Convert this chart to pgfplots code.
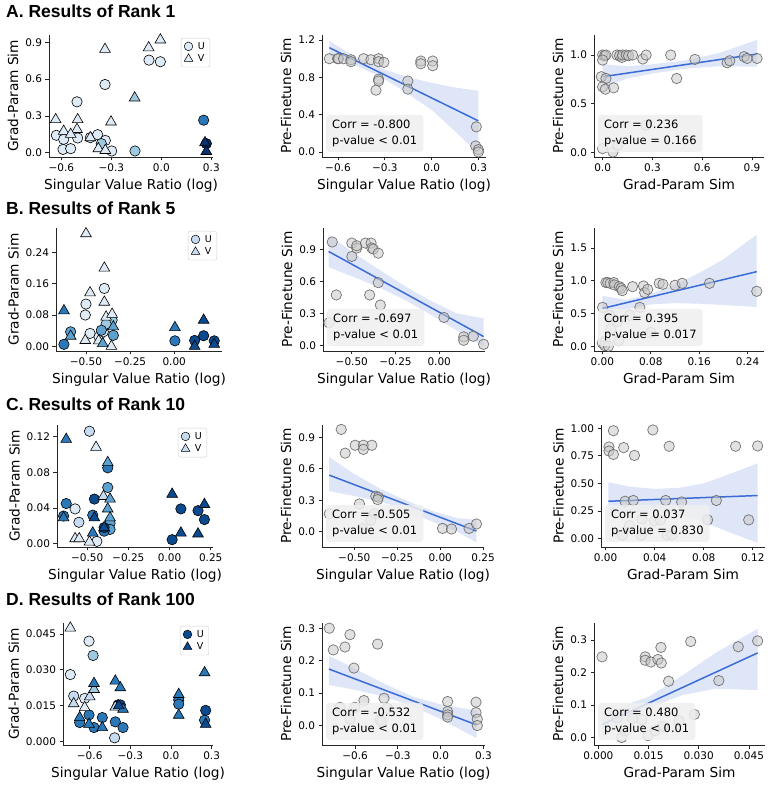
\documentclass[border=0pt]{standalone}
\usepackage{fontspec}
\setmainfont{DejaVu Sans}
\newfontfamily\titlefont{Liberation Sans}
\usepackage{pgfplots}
\pgfplotsset{compat=1.18}

% Blues palette for the U/V markers
\definecolor{bA}{HTML}{DEEBF7}
\definecolor{bB}{HTML}{C6DBEF}
\definecolor{bC}{HTML}{9ECAE1}
\definecolor{bD}{HTML}{5DA2CF}
\definecolor{bE}{HTML}{2B78B8}
\definecolor{bF}{HTML}{0B4A8E}
\definecolor{bG}{HTML}{0A3370}
\definecolor{regblue}{HTML}{3B6BD6}
\definecolor{boxgray}{HTML}{EFEFEF}
\definecolor{ptfill}{HTML}{C8C8C8}

\pgfplotsset{
  panel/.style={
    scale only axis, enlargelimits=false, clip=false, anchor=south west,
    scaled ticks=false,
    axis x line*=bottom, axis y line*=left,
    axis line style={-, black!85, line width=0.8pt},
    tick align=outside, major tick length=3.5pt,
    tick style={black!85, line width=0.8pt},
    tick label style={font=\fontsize{10.5}{12}\selectfont},
    xlabel style={font=\fontsize{13.7}{16}\selectfont},
    ylabel style={font=\fontsize{13.7}{16}\selectfont},
  },
  leg/.style={legend style={at={(1,1)}, anchor=north east, xshift=#1,
    yshift=-3pt, draw=black!20, rounded corners=2pt, fill=white,
    font=\fontsize{9.5}{10}\selectfont, inner xsep=3pt, inner ysep=2pt,
    row sep=0pt, /tikz/every odd column/.append style={column sep=3pt}},
    legend cell align=left},
  U/.style={only marks, forget plot, mark=*, mark size=5.2pt,
    mark options={draw=black, line width=0.6pt, fill=#1}},
  V/.style={only marks, forget plot, mark=triangle*, mark size=6.2pt,
    mark options={draw=black, line width=0.6pt, fill=#1}},
  LU/.style={only marks, mark=*, mark size=4.3pt,
    mark options={draw=black, line width=0.5pt, fill=#1}},
  LV/.style={only marks, mark=triangle*, mark size=5pt,
    mark options={draw=black, line width=0.5pt, fill=#1}},
  G/.style={only marks, forget plot, mark=*, mark size=5.2pt,
    fill opacity=0.55, draw opacity=0.9,
    mark options={draw=black!60, fill=ptfill, fill opacity=0.55,
      draw opacity=0.9, line width=0.7pt}},
  band/.style={fill=regblue, fill opacity=0.17, draw=none, forget plot},
  reg/.style={regblue, line width=1.5pt, no marks, forget plot},
}
\tikzset{corrbox/.style={anchor=south west, xshift=4pt, yshift=5pt,
  fill=boxgray, fill opacity=0.85, text opacity=1, rounded corners=3pt,
  inner xsep=6pt, inner ysep=5pt, align=left,
  font=\fontsize{11.5}{16}\selectfont}}

\begin{document}
\begin{tikzpicture}
\path[use as bounding box] (0pt,0pt) rectangle (772pt,785pt);

\node[anchor=base west, inner sep=0pt, font=\titlefont\bfseries\fontsize{17.5}{20}\selectfont] at (6pt,767pt) {A. Results of Rank 1};
\node[anchor=base west, inner sep=0pt, font=\titlefont\bfseries\fontsize{17.5}{20}\selectfont] at (6pt,570pt) {B. Results of Rank 5};
\node[anchor=base west, inner sep=0pt, font=\titlefont\bfseries\fontsize{17.5}{20}\selectfont] at (6pt,374pt) {C. Results of Rank 10};
\node[anchor=base west, inner sep=0pt, font=\titlefont\bfseries\fontsize{17.5}{20}\selectfont] at (6pt,179pt) {D. Results of Rank 100};

% ---------------- Rank 1 ----------------
\begin{axis}[panel, leg=-3pt, at={(49pt,628pt)}, width=164pt, height=122pt,
  xmin=-0.674, xmax=0.31, ymin=-0.035, ymax=0.96,
  xtick={-0.6,-0.3,0,0.3}, xticklabels={−0.6,−0.3,0.0,0.3},
  ytick={0,0.3,0.6,0.9}, yticklabels={0.0,0.3,0.6,0.9},
  xlabel={Singular Value Ratio (log)}, ylabel={Grad-Param Sim}]
\addplot[U=bA] coordinates {(-0.074,0.755) (-0.006,0.742) (-0.338,0.556) (-0.506,0.415) (-0.63,0.142) (-0.586,0.109) (-0.59,0.027) (-0.544,0.033) (-0.502,0.12) (-0.426,0.123) (-0.382,0.147) (-0.336,0.10) (-0.298,0.014)};
\addplot[U=bC] coordinates {(-0.36,0.074) (-0.158,0.014)};
\addplot[U=bE] coordinates {(0.254,0.265)};
\addplot[U=bG] coordinates {(0.27,0.074)};
\addplot[V=bA] coordinates {(-0.006,0.92) (-0.076,0.856) (-0.338,0.843) (-0.634,0.27) (-0.502,0.27) (-0.302,0.251) (-0.586,0.175) (-0.506,0.19) (-0.544,0.15) (-0.426,0.123) (-0.378,0.033) (-0.336,0.019)};
\addplot[V=bC] coordinates {(-0.16,0.447)};
\addplot[V=bG] coordinates {(0.262,0.082) (0.27,0.011)};
\addlegendimage{LU=bA}\addlegendentry{U}
\addlegendimage{LV=bA}\addlegendentry{V}
\end{axis}

\begin{axis}[panel, name=am, at={(322pt,628pt)}, width=164pt, height=122pt,
  xmin=-0.702, xmax=0.347, ymin=-0.054, ymax=1.253,
  xtick={-0.6,-0.3,0,0.3}, xticklabels={−0.6,−0.3,0.0,0.3},
  ytick={0,0.4,0.8,1.2}, yticklabels={0.0,0.4,0.8,1.2},
  xlabel={Singular Value Ratio (log)}, ylabel={Pre-Finetune Sim}]
\addplot[G] coordinates {(-0.655,0.999) (-0.602,0.999) (-0.597,0.999) (-0.564,0.999) (-0.517,0.988) (-0.517,0.967) (-0.436,0.999) (-0.389,0.988) (-0.34,0.999) (-0.34,0.967) (-0.306,0.96) (-0.07,0.974) (-0.07,0.945) (0.006,0.974) (0.006,0.924) (-0.34,0.78) (-0.34,0.76) (-0.357,0.662) (-0.153,0.76) (-0.153,0.673) (0.285,0.269) (0.281,0.064) (0.298,0.025) (0.298,0.0)};
\addplot[band] coordinates {(-0.655,1.19) (-0.55,1.08) (-0.45,0.99) (-0.3,0.88) (-0.15,0.80) (0.0,0.74) (0.15,0.69) (0.298,0.655) (0.298,-0.018) (0.15,0.22) (0.0,0.45) (-0.15,0.62) (-0.3,0.78) (-0.45,0.9) (-0.55,0.97) (-0.655,1.03)};
\addplot[reg] coordinates {(-0.655,1.117) (0.298,0.333)};
\end{axis}
\node[corrbox] at (am.south west) {Corr = -0.800\\p-value < 0.01};

\begin{axis}[panel, name=ar, at={(594pt,628pt)}, width=170pt, height=122pt,
  xmin=-0.052, xmax=0.972, ymin=-0.048, ymax=1.206,
  xtick={0,0.3,0.6,0.9}, xticklabels={0.0,0.3,0.6,0.9},
  ytick={0,0.5,1}, yticklabels={0.0,0.5,1.0},
  xlabel={Grad-Param Sim}, ylabel={Pre-Finetune Sim}]
\addplot[G] coordinates {(0.0,1.0) (0.012,0.993) (0.02,1.0) (0.0,0.948) (0.086,1.0) (0.102,0.993) (0.116,0.976) (0.12,1.0) (0.142,1.0) (0.156,0.993) (0.18,1.0) (0.242,0.959) (0.262,1.0) (0.41,1.0) (0.556,0.955) (0.75,0.921) (0.766,0.941) (0.852,0.983) (0.87,0.965) (0.93,0.965) (-0.008,0.777) (0.02,0.759) (0.446,0.759) (0.0,0.673) (0.016,0.649) (0.066,0.663) (0.0,0.038) (0.062,0.003) (0.26,0.278) (0.09,0.07)};
\addplot[band] coordinates {(0,0.905) (0.15,0.885) (0.3,0.905) (0.5,0.945) (0.7,1.02) (0.93,1.155) (0.93,0.88) (0.7,0.885) (0.5,0.86) (0.3,0.81) (0.15,0.76) (0,0.67)};
\addplot[reg] coordinates {(0.0,0.777) (0.93,1.01)};
\end{axis}
\node[corrbox] at (ar.south west) {Corr = 0.236\\p-value = 0.166};

% ---------------- Rank 5 ----------------
\begin{axis}[panel, leg=-5pt, at={(56pt,434pt)}, width=166pt, height=123pt,
  xmin=-0.67, xmax=0.271, ymin=-0.012, ymax=0.3025,
  xtick={-0.5,-0.25,0}, xticklabels={−0.50,−0.25,0.00},
  ytick={0,0.08,0.16,0.24}, yticklabels={0.00,0.08,0.16,0.24},
  xlabel={Singular Value Ratio (log)}, ylabel={Grad-Param Sim}]
\addplot[U=bA] coordinates {(-0.5,0.108) (-0.504,0.08) (-0.396,0.148) (-0.477,0.033) (-0.426,0.024) (-0.402,0.037)};
\addplot[U=bC] coordinates {(-0.352,0.067) (-0.386,0.057)};
\addplot[U=bD] coordinates {(-0.587,0.037) (-0.413,0.041) (-0.345,0.028)};
\addplot[U=bE] coordinates {(-0.625,0.005) (0.004,0.014)};
\addplot[U=bF] coordinates {(0.116,0.015) (0.167,0.027) (0.227,0.014)};
\addplot[V=bA] coordinates {(-0.5,0.288) (-0.396,0.2) (-0.477,0.137) (-0.396,0.113) (-0.386,0.075) (-0.352,0.082) (-0.504,0.015) (-0.428,0.014) (-0.356,0.0)};
\addplot[V=bD] coordinates {(-0.587,0.026) (-0.345,0.05) (-0.405,0.007)};
\addplot[V=bE] coordinates {(-0.625,0.091) (0.004,0.048)};
\addplot[V=bF] coordinates {(0.116,0.0) (0.167,0.067) (0.227,0.005)};
\addlegendimage{LU=bB}\addlegendentry{U}
\addlegendimage{LV=bB}\addlegendentry{V}
\end{axis}

\begin{axis}[panel, name=bm, at={(323pt,434pt)}, width=162pt, height=123pt,
  xmin=-0.665, xmax=0.262, ymin=-0.054, ymax=1.105,
  xtick={-0.5,-0.25,0}, xticklabels={−0.50,−0.25,0.00},
  ytick={0,0.3,0.6,0.9}, yticklabels={0.0,0.3,0.6,0.9},
  xlabel={Singular Value Ratio (log)}, ylabel={Pre-Finetune Sim}]
\addplot[G] coordinates {(-0.612,0.973) (-0.5,0.963) (-0.5,0.837) (-0.472,0.916) (-0.472,0.938) (-0.422,0.963) (-0.39,0.963) (-0.386,0.916) (-0.377,0.906) (-0.349,0.868) (-0.349,0.59) (-0.398,0.474) (-0.589,0.474) (-0.337,0.379) (-0.631,0.212) (0.027,0.262) (0.14,0.079) (0.14,0.047) (0.195,0.085) (0.254,0.009)};
\addplot[band] coordinates {(-0.633,1.04) (-0.5,0.88) (-0.35,0.72) (-0.2,0.56) (-0.05,0.42) (0.1,0.3) (0.254,0.253) (0.254,-0.01) (0.1,0.14) (-0.05,0.29) (-0.2,0.43) (-0.35,0.55) (-0.5,0.65) (-0.633,0.736)};
\addplot[reg] coordinates {(-0.633,0.884) (0.254,0.082)};
\end{axis}
\node[corrbox] at (bm.south west) {Corr = -0.697\\p-value < 0.01};

\begin{axis}[panel, name=br, at={(594pt,434pt)}, width=170pt, height=123pt,
  xmin=-0.0137, xmax=0.267, ymin=-0.072, ymax=1.807,
  xtick={0,0.08,0.16,0.24}, xticklabels={0.00,0.08,0.16,0.24},
  ytick={0,0.5,1,1.5}, yticklabels={0.0,0.5,1.0,1.5},
  xlabel={Grad-Param Sim}, ylabel={Pre-Finetune Sim}]
\addplot[G] coordinates {(0.006,0.973) (0.009,0.973) (0.013,0.962) (0.019,0.973) (0.02,0.937) (0.028,0.911) (0.031,0.886) (0.033,0.85) (0.05,0.911) (0.068,0.921) (0.07,0.819) (0.075,0.87) (0.094,0.962) (0.1,0.947) (0.12,0.932) (0.132,0.962) (0.177,0.962) (0.255,0.84) (0.0005,0.594) (0.062,0.594) (0.012,0.474) (0.045,0.474) (0.025,0.379) (0.08,0.212) (0.014,0.262) (0.005,0.079) (0.0,0.047) (0.027,0.085) (0.004,0.009) (0.01,0.0)};
\addplot[band] coordinates {(0,0.77) (0.04,0.71) (0.08,0.80) (0.12,0.94) (0.16,1.12) (0.2,1.33) (0.255,1.705) (0.255,0.6) (0.2,0.63) (0.16,0.65) (0.12,0.66) (0.08,0.64) (0.04,0.56) (0,0.38)};
\addplot[reg] coordinates {(0.0,0.578) (0.255,1.14)};
\end{axis}
\node[corrbox] at (br.south west) {Corr = 0.395\\p-value = 0.017};

% ---------------- Rank 10 ----------------
\begin{axis}[panel, leg=-6pt, at={(57pt,238pt)}, width=156pt, height=122pt,
  xmin=-0.683, xmax=0.264, ymin=-0.0037, ymax=0.133,
  xtick={-0.5,-0.25,0,0.25}, xticklabels={−0.50,−0.25,0.00,0.25},
  ytick={0,0.04,0.08,0.12}, yticklabels={0.00,0.04,0.08,0.12},
  xlabel={Singular Value Ratio (log)}, ylabel={Grad-Param Sim}]
\addplot[U=bA] coordinates {(-0.573,0.039) (-0.441,0.0026)};
\addplot[U=bB] coordinates {(-0.486,0.126) (-0.55,0.024)};
\addplot[U=bD] coordinates {(-0.375,0.063) (-0.361,0.023) (-0.361,0.016)};
\addplot[U=bE] coordinates {(-0.627,0.045) (-0.643,0.031) (-0.466,0.032) (-0.375,0.085) (-0.397,0.014)};
\addplot[U=bF] coordinates {(-0.456,0.05) (-0.397,0.018) (0.016,0.0045) (0.069,0.039) (0.173,0.037) (0.212,0.027)};
\addplot[V=bA] coordinates {(-0.446,0.108) (-0.573,0.0056) (-0.548,0.0056) (-0.486,0.0019)};
\addplot[V=bB] coordinates {(-0.401,0.053)};
\addplot[V=bD] coordinates {(-0.375,0.091) (-0.361,0.05) (-0.375,0.039) (-0.361,0.029)};
\addplot[V=bE] coordinates {(-0.627,0.117) (-0.643,0.029) (-0.466,0.012)};
\addplot[V=bF] coordinates {(-0.456,0.029) (-0.397,0.018) (0.016,0.0555) (0.069,0.012) (0.173,0.011) (0.212,0.044)};
\addlegendimage{LU=bB}\addlegendentry{U}
\addlegendimage{LV=bB}\addlegendentry{V}
\end{axis}

\begin{axis}[panel, name=cm, at={(322pt,238pt)}, width=162pt, height=122pt,
  xmin=-0.688, xmax=0.255, ymin=-0.145, ymax=1.016,
  xtick={-0.5,-0.25,0,0.25}, xticklabels={−0.50,−0.25,0.00,0.25},
  ytick={0,0.3,0.6,0.9}, yticklabels={0.0,0.3,0.6,0.9},
  xlabel={Singular Value Ratio (log)}, ylabel={Pre-Finetune Sim}]
\addplot[G] coordinates {(-0.576,0.974) (-0.553,0.748) (-0.495,0.823) (-0.447,0.823) (-0.447,0.784) (-0.398,0.823) (-0.375,0.339) (-0.36,0.329) (-0.364,0.306) (-0.47,0.265) (-0.646,0.171) (-0.383,0.171) (-0.404,0.11) (-0.452,0.032) (0.0135,0.032) (0.066,0.026) (0.168,0.032) (0.211,0.074)};
\addplot[band] coordinates {(-0.646,0.71) (-0.5,0.55) (-0.35,0.41) (-0.2,0.3) (-0.05,0.2) (0.1,0.13) (0.211,0.113) (0.211,-0.103) (0.1,0.0) (-0.05,0.1) (-0.2,0.2) (-0.35,0.29) (-0.5,0.34) (-0.646,0.387)};
\addplot[reg] coordinates {(-0.646,0.539) (0.211,0.0065)};
\end{axis}
\node[corrbox] at (cm.south west) {Corr = -0.505\\p-value < 0.01};

\begin{axis}[panel, name=cr, at={(601pt,238pt)}, width=164pt, height=122pt,
  xmin=-0.0038, xmax=0.13, ymin=-0.077, ymax=1.03,
  xtick={0,0.04,0.08,0.12}, xticklabels={0.00,0.04,0.08,0.12},
  ytick={0,0.25,0.5,0.75,1}, yticklabels={0.00,0.25,0.50,0.75,1.00},
  xlabel={Grad-Param Sim}, ylabel={Pre-Finetune Sim}]
\addplot[G] coordinates {(0.0027,0.831) (0.0027,0.794) (0.0063,0.978) (0.0063,0.763) (0.0147,0.825) (0.0235,0.754) (0.0385,0.985) (0.0518,0.837) (0.106,0.837) (0.124,0.84) (0.0903,0.345) (0.1167,0.169) (0.0158,0.338) (0.0226,0.345) (0.049,0.345) (0.062,0.332) (0.0194,0.117) (0.0295,0.178) (0.0398,0.16) (0.0447,0.169) (0.0832,0.169) (0.05,0.031) (0.029,0.031) (0.0136,0.031) (0.054,0.031)};
\addplot[band] coordinates {(0.0022,0.51) (0.02,0.47) (0.04,0.45) (0.06,0.46) (0.08,0.5) (0.1,0.58) (0.124,0.683) (0.124,-0.04) (0.1,0.06) (0.08,0.15) (0.06,0.22) (0.04,0.25) (0.02,0.24) (0.0022,0.20)};
\addplot[reg] coordinates {(0.0022,0.338) (0.124,0.39)};
\end{axis}
\node[corrbox] at (cr.south west) {Corr = 0.037\\p-value = 0.830};

% ---------------- Rank 100 ----------------
\begin{axis}[panel, leg=-4pt, at={(63pt,40pt)}, width=150pt, height=122pt,
  xmin=-0.797, xmax=0.31, ymin=-0.0015, ymax=0.0496,
  xtick={-0.6,-0.3,0,0.3}, xticklabels={−0.6,−0.3,0.0,0.3},
  ytick={0,0.015,0.03,0.045}, yticklabels={0.000,0.015,0.030,0.045},
  xlabel={Singular Value Ratio (log)}, ylabel={Grad-Param Sim}]
\addplot[U=bA] coordinates {(-0.605,0.042) (-0.743,0.028) (-0.637,0.018)};
\addplot[U=bB] coordinates {(-0.718,0.019) (-0.416,0.0015)};
\addplot[U=bC] coordinates {(-0.575,0.036)};
\addplot[U=bE] coordinates {(-0.674,0.0079) (-0.605,0.0111) (-0.568,0.0058) (-0.507,0.01) (-0.411,0.0082) (-0.354,0.0058) (-0.391,0.0153) (0.057,0.0174) (0.057,0.0156) (0.248,0.0089)};
\addplot[U=bF] coordinates {(-0.374,0.0153) (0.256,0.013)};
\addplot[V=bA] coordinates {(-0.743,0.0475) (-0.637,0.0142)};
\addplot[V=bB] coordinates {(-0.718,0.0158) (-0.6,0.0187) (-0.411,0.0144)};
\addplot[V=bC] coordinates {(-0.568,0.0218)};
\addplot[V=bE] coordinates {(-0.568,0.0243) (-0.674,0.01) (-0.605,0.0072) (-0.507,0.0058) (-0.411,0.0253) (-0.374,0.0225) (-0.354,0.0135) (0.057,0.0197) (0.057,0.011) (0.248,0.0288)};
\addplot[V=bF] coordinates {(-0.386,0.0149) (0.256,0.0072)};
\addlegendimage{LU=bF}\addlegendentry{U}
\addlegendimage{LV=bF}\addlegendentry{V}
\end{axis}

\begin{axis}[panel, name=dm, at={(322pt,40pt)}, width=163pt, height=122pt,
  xmin=-0.832, xmax=0.311, ymin=-0.06, ymax=0.316,
  xtick={-0.6,-0.3,0,0.3}, xticklabels={−0.6,−0.3,0.0,0.3},
  ytick={0,0.1,0.2,0.3}, yticklabels={0.0,0.1,0.2,0.3},
  xlabel={Singular Value Ratio (log)}, ylabel={Pre-Finetune Sim}]
\addplot[G] coordinates {(-0.781,0.3) (-0.753,0.233) (-0.671,0.242) (-0.636,0.28) (-0.608,0.177) (-0.442,0.251) (-0.538,0.077) (-0.397,0.084) (-0.706,0.056) (-0.601,0.056) (-0.636,0.0195) (-0.425,0.0175) (-0.414,0.012) (-0.374,0.053) (0.049,0.074) (0.049,0.043) (0.049,0.033) (0.049,0.026) (0.248,0.072) (0.248,0.04) (0.257,0.0195) (0.257,0.0)};
\addplot[band] coordinates {(-0.783,0.215) (-0.6,0.175) (-0.4,0.13) (-0.2,0.09) (0.0,0.065) (0.252,0.046) (0.252,-0.039) (0.0,0.02) (-0.2,0.06) (-0.4,0.09) (-0.6,0.11) (-0.783,0.125)};
\addplot[reg] coordinates {(-0.783,0.174) (0.252,0.002)};
\end{axis}
\node[corrbox] at (dm.south west) {Corr = -0.532\\p-value < 0.01};

\begin{axis}[panel, name=dr, at={(594pt,40pt)}, width=171pt, height=122pt,
  xmin=-0.0013, xmax=0.0498, ymin=-0.023, ymax=0.352,
  xtick={0,0.015,0.03,0.045}, xticklabels={0.000,0.015,0.030,0.045},
  ytick={0,0.1,0.2,0.3}, yticklabels={0.0,0.1,0.2,0.3},
  xlabel={Grad-Param Sim}, ylabel={Pre-Finetune Sim}]
\addplot[G] coordinates {(0.0011,0.248) (0.014,0.248) (0.014,0.2375) (0.0157,0.232) (0.0178,0.24) (0.0187,0.277) (0.0188,0.229) (0.021,0.173) (0.0276,0.295) (0.036,0.175) (0.0418,0.279) (0.0476,0.297) (0.0287,0.071) (0.0241,0.052) (0.013,0.055) (0.0102,0.058) (0.007,0.0) (0.0056,0.06) (0.0148,0.006) (0.0192,0.034) (0.017,0.021) (0.008,0.021)};
\addplot[band] coordinates {(0.0011,0.075) (0.015,0.125) (0.025,0.19) (0.035,0.26) (0.0476,0.334) (0.0476,0.146) (0.035,0.15) (0.025,0.13) (0.015,0.09) (0.0011,0.0)};
\addplot[reg] coordinates {(0.0011,0.04) (0.0476,0.26)};
\end{axis}
\node[corrbox] at (dr.south west) {Corr = 0.480\\p-value < 0.01};

\end{tikzpicture}
\end{document}
